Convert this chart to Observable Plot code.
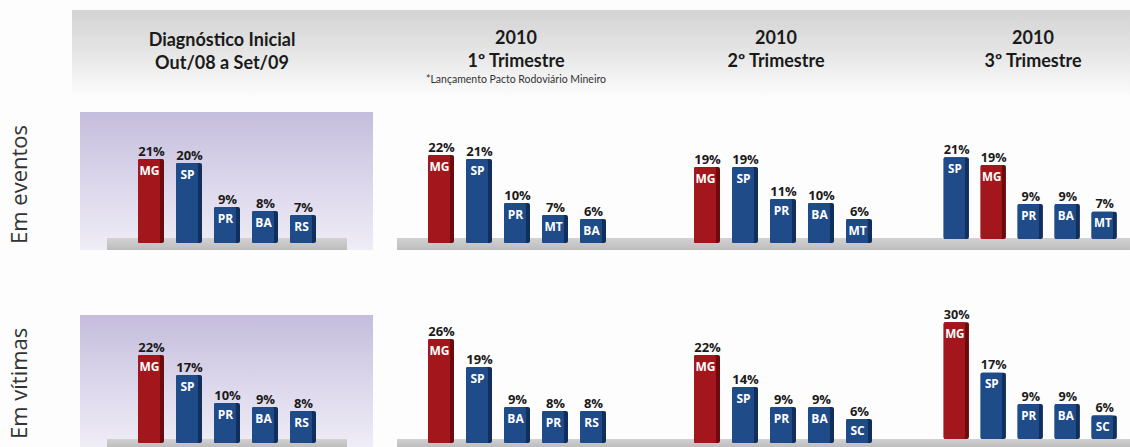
<!DOCTYPE html>
<html><head><meta charset="utf-8">
<script src="https://cdn.jsdelivr.net/npm/d3@7"></script>
<script src="https://cdn.jsdelivr.net/npm/@observablehq/plot@0.6"></script>
<style>
body{margin:0;background:#fff;}
#wrap{position:relative;width:1130px;height:447px;overflow:hidden;background:#fdfdfd;font-family:"Open Sans",sans-serif;}
.header{position:absolute;left:72px;top:10px;width:1058px;height:88px;background:linear-gradient(#d3d3d3,#e4e4e4 45%,#fdfdfd);}
.title{position:absolute;text-align:center;font-family:Lato,sans-serif;font-weight:bold;font-size:18px;color:#1a1a1a;line-height:23px;transform:translateX(-50%);white-space:nowrap;}
.sub{font-family:Lato,sans-serif;font-weight:normal;font-size:10.5px;line-height:14px;color:#333;}
.rowlab{position:absolute;left:4px;width:28px;writing-mode:vertical-rl;transform:rotate(180deg);text-align:center;font-size:22px;color:#333;line-height:28px;white-space:nowrap;}
.purple{position:absolute;left:80px;width:293px;background:linear-gradient(#c5bddc,#ddd8ec 55%,#efedf6);}
.plat{position:absolute;background:linear-gradient(#d2d2d2,#bdbdbd);}
.panel{position:absolute;}
</style></head>
<body><div id="wrap"></div>
<script>
// ---- data ----
const periodTitles = ["Diagnóstico Inicial", "2010", "2010", "2010"];
const periodSubtitles = ["Out/08 a Set/09", "1º Trimestre", "2º Trimestre", "3º Trimestre"];
const periodNotes = ["", "*Lançamento Pacto Rodoviário Mineiro", "", ""];
const metrics = ["Em eventos", "Em vítimas"];
const eventosStates = [["MG","SP","PR","BA","RS"],["MG","SP","PR","MT","BA"],["MG","SP","PR","BA","MT"],["SP","MG","PR","BA","MT"]];
const eventosValues = [[21,20,9,8,7],[22,21,10,7,6],[19,19,11,10,6],[21,19,9,9,7]];
const vitimasStates = [["MG","SP","PR","BA","RS"],["MG","SP","BA","PR","RS"],["MG","SP","PR","BA","SC"],["MG","SP","PR","BA","SC"]];
const vitimasValues = [[22,17,10,9,8],[26,19,9,8,8],[22,14,9,9,6],[30,17,9,9,6]];
const highlight = "MG";

// ---- layout ----
const wrap = document.getElementById("wrap");
const colLeft = [124.5, 414.5, 680.5, 930.5];
const titleCenters = [222, 516, 776, 1033];
const rowBase = [243, 443];
const red = "#a3161c", redDark = "#6c0b0f", blue = "#1f4b88", blueDark = "#112f5d";

function add(html){ wrap.insertAdjacentHTML("beforeend", html); }
add(`<div class="header"></div>`);
periodTitles.forEach((t,i)=>{
  const note = periodNotes[i] ? `<div class="sub">${periodNotes[i]}</div>` : "";
  add(`<div class="title" style="left:${titleCenters[i]}px;top:${i===0?28:26}px">${t}<br>${periodSubtitles[i]}${note}</div>`);
});
// row backgrounds
add(`<div class="purple" style="top:112px;height:138px"></div>`);
add(`<div class="purple" style="top:315px;height:132px"></div>`);
[[238,12],[439,8]].forEach(([t,h])=>{
  add(`<div class="plat" style="left:107px;top:${t}px;width:240px;height:${h}px"></div>`);
  add(`<div class="plat" style="left:397px;top:${t}px;width:733px;height:${h}px"></div>`);
});
add(`<div class="rowlab" style="top:120px;height:128px">${metrics[0]}</div>`);
add(`<div class="rowlab" style="top:320px;height:127px">${metrics[1]}</div>`);

function panel(states, values){
  const data = states.map((s,i)=>({rank:i, state:s, value:values[i]}));
  return Plot.plot({
    width:205, height:150, marginTop:30, marginBottom:0, marginLeft:0, marginRight:0,
    x:{type:"band", domain:d3.range(states.length), padding:0.31, axis:null},
    y:{domain:[0,30], axis:null},
    color:{type:"identity"},
    style:{background:"transparent", overflow:"visible"},
    marks:[
      Plot.barY(data,{x:"rank", y:"value", fill:d=>d.state===highlight?redDark:blueDark, rx:2}),
      Plot.barY(data,{x:"rank", y:"value", fill:d=>d.state===highlight?red:blue, insetRight:4, rx:1.5}),
      Plot.text(data,{x:"rank", y:"value", text:d=>d.value+"%", lineAnchor:"bottom", dy:-4, fill:"#1a1a1a",
        fontWeight:"bold", fontSize:13, fontFamily:"Open Sans"}),
      Plot.text(data,{x:"rank", y:"value", text:"state", lineAnchor:"top", dy:7, dx:-2, fill:"white",
        fontWeight:"bold", fontSize:12, fontFamily:"Open Sans"})
    ]
  });
}

[[eventosStates,eventosValues],[vitimasStates,vitimasValues]].forEach(([S,V],r)=>{
  S.forEach((states,c)=>{
    const el = panel(states, V[c]);
    const div = document.createElement("div");
    div.className = "panel";
    div.style.left = colLeft[c]+"px";
    div.style.top = (rowBase[r]-150)+"px";
    div.appendChild(el);
    wrap.appendChild(div);
  });
});
</script>
</body></html>
